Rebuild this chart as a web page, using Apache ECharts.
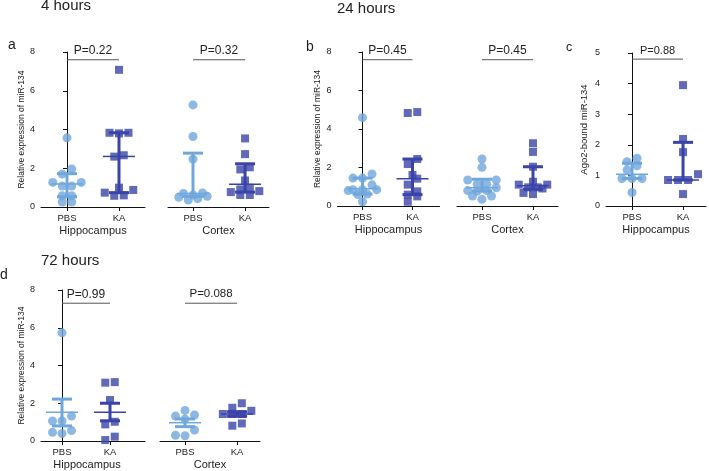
<!DOCTYPE html>
<html><head><meta charset="utf-8">
<script src="https://cdn.jsdelivr.net/npm/echarts@6/dist/echarts.min.js"></script>
<style>html,body{margin:0;padding:0;background:#fff}#c{width:709px;height:471px}</style>
</head><body><div id="c"></div>
<script>
const groups = ['PBS', 'KA'];
const regions = ['Hippocampus', 'Cortex'];
const timeTitles = ['4 hours', '24 hours', '72 hours'];
const panelLetters = ['a', 'b', 'c', 'd'];
const yNameExpr = 'Relative expression of miR-134';
const yNameAgo = 'Ago2-bound miR-134';

// a: 4 hours
const a_hip_PBS = [3.57, 1.96, 1.70, 1.27, 1.27, 1.08, 1.08, 0.58, 0.58, 0.26, 0.26];
const a_hip_KA  = [7.08, 3.83, 3.80, 3.83, 2.60, 2.67, 1.00, 0.88, 0.60, 0.58, 0.74];
const a_ctx_PBS = [5.27, 3.64, 2.47, 0.72, 0.70, 0.62, 0.55, 0.50, 0.43, 0.36];
const a_ctx_KA  = [3.54, 2.73, 2.05, 1.94, 1.37, 0.99, 0.91, 0.82, 0.77, 0.62, 0.62];
// b: 24 hours
const b_hip_PBS = [4.59, 1.66, 1.45, 1.45, 1.10, 0.85, 0.85, 0.85, 0.80, 0.62, 0.60, 0.22];
const b_hip_KA  = [4.88, 4.83, 2.44, 2.18, 1.61, 1.42, 1.11, 0.76, 0.59, 0.50, 0.22];
const b_ctx_PBS = [2.44, 2.01, 1.35, 1.35, 1.13, 1.13, 0.95, 0.80, 0.80, 0.77, 0.52, 0.52, 0.35];
const b_ctx_KA  = [3.26, 2.81, 2.04, 1.26, 1.11, 1.11, 0.97, 0.97, 0.91, 0.68, 0.62];
// c: Ago2-bound, 24 hours
const c_hip_PBS = [1.56, 1.45, 1.31, 1.18, 0.90, 0.90, 0.90, 0.44];
const c_hip_KA  = [3.95, 2.19, 1.76, 1.04, 0.85, 0.85, 0.85, 0.39];
// d: 72 hours
const d_hip_PBS = [5.73, 1.32, 1.06, 1.06, 0.55, 0.46, 0.40];
const d_hip_KA  = [3.12, 3.09, 2.17, 1.02, 0.88, 0.23, 0.05];
const d_ctx_PBS = [1.62, 1.38, 1.32, 1.16, 0.58, 0.30, 0.28];
const d_ctx_KA  = [2.00, 1.76, 1.60, 1.43, 1.43, 1.43, 0.93, 0.81];

// centre line, lower bar, upper bar  [PBS, KA]
const a_hip_stats = [[1.19, 0.53, 1.72], [2.61, 0.74, 3.83]];
const a_ctx_stats = [[0.70, 0.55, 2.78], [1.17, 0.77, 2.23]];
const b_hip_stats = [[0.90, 0.62, 1.45], [1.42, 0.59, 2.44]];
const b_ctx_stats = [[0.95, 0.78, 1.39], [1.05, 0.88, 2.04]];
const c_hip_stats = [[1.04, 0.90, 1.40], [0.85, 0.85, 2.08]];
const d_hip_stats = [[1.52, 0.80, 2.22], [1.52, 1.07, 2.00]];
const d_ctx_stats = [[0.97, 0.76, 1.17], [1.43, 1.31, 1.55]];

const pValues = { a1: 'P=0.22', a2: 'P=0.32', b1: 'P=0.45', b2: 'P=0.45', c: 'P=0.88', d1: 'P=0.99', d2: 'P=0.088' };

const LIGHT = '#6fa6dc';
const DARK = '#3a43a8';
const FONT = 'Liberation Sans, Arial, Helvetica, sans-serif';

const subplots = [
  { id: 'a1', g: [41, 52, 104, 155], xr: [-0.5, 1.5], yMax: 8, yInt: 2, showY: true, yName: yNameExpr, yGap: 14, yNameSize: 8.5, xName: regions[0], pbs: a_hip_PBS, ka: a_hip_KA, st: a_hip_stats, pY: 7.6, pSize: 12 },
  { id: 'a2', g: [168, 52, 101, 155], xr: [-0.48, 1.46], yMax: 8, yInt: 2, showY: false, xName: regions[1], pbs: a_ctx_PBS, ka: a_ctx_KA, st: a_ctx_stats, pY: 7.6, pSize: 12 },
  { id: 'b1', g: [337.5, 52, 102, 154], xr: [-0.5, 1.54], yMax: 8, yInt: 2, showY: true, yName: yNameExpr, yGap: 13, yNameSize: 8.5, xName: regions[0], pbs: b_hip_PBS, ka: b_hip_KA, st: b_hip_stats, pY: 7.6, pSize: 12 },
  { id: 'b2', g: [457, 52, 101, 154], xr: [-0.49, 1.49], yMax: 8, yInt: 2, showY: false, xName: regions[1], pbs: b_ctx_PBS, ka: b_ctx_KA, st: b_ctx_stats, pY: 7.6, pSize: 12 },
  { id: 'c', g: [606, 53, 100, 153], xr: [-0.51, 1.45], yMax: 5, yInt: 1, showY: true, yName: yNameAgo, yGap: 17, yNameSize: 9.5, xName: regions[0], pbs: c_hip_PBS, ka: c_hip_KA, st: c_hip_stats, pY: 4.8, pSize: 11 },
  { id: 'd1', g: [41, 290, 104, 151], xr: [-0.4375, 1.729], yMax: 8, yInt: 2, showY: true, yName: yNameExpr, yGap: 14, yNameSize: 8.5, xName: regions[0], xNamePad: [0, 12, 0, 0], pbs: d_hip_PBS, ka: d_hip_KA, st: d_hip_stats, pY: 7.3, pSize: 12 },
  { id: 'd2', g: [160, 290, 100, 151], xr: [-0.48, 1.44], yMax: 8, yInt: 2, showY: false, xName: regions[1], pbs: d_ctx_PBS, ka: d_ctx_KA, st: d_ctx_stats, pY: 7.3, pSize: 11.5 }
];

// simple GraphPad-like swarm: points in the same row spread sideways, inner slots filled first
function swarm(vals, gIdx, sp, spacing, thr, maxBin) {
  const ppy = sp.g[3] / sp.yMax;
  const ppx = sp.g[2] / (sp.xr[1] - sp.xr[0]);
  const sorted = vals.slice().sort((a, b) => a - b);
  const out = [];
  let i = 0;
  while (i < sorted.length) {
    let j = i;
    while (j < sorted.length && j - i < maxBin && (sorted[j] - sorted[i]) * ppy < thr) j++;
    const bin = sorted.slice(i, j);
    const n = bin.length;
    const slots = [];
    for (let k = 0; k < n; k++) slots.push((k - (n - 1) / 2) * spacing);
    slots.sort((a, b) => Math.abs(a) - Math.abs(b) || a - b);
    bin.forEach((v, k) => out.push([gIdx + slots[k] / ppx, v]));
    i = j;
  }
  return out;
}

const grid = [], xAxis = [], yAxis = [], series = [];
subplots.forEach((sp, idx) => {
  grid.push({ left: sp.g[0], top: sp.g[1], width: sp.g[2], height: sp.g[3] });
  xAxis.push({
    type: 'value', gridIndex: idx, min: sp.xr[0], max: sp.xr[1],
    name: sp.xName, nameLocation: 'middle', nameGap: 18,
    nameTextStyle: { fontSize: 11, fontFamily: FONT, color: '#222', padding: sp.xNamePad || 0 },
    axisLine: { show: true, onZero: false, lineStyle: { color: '#111', width: 1 } },
    axisTick: { show: true, length: 4, customValues: [0, 1], lineStyle: { color: '#111' } },
    axisLabel: { customValues: [0, 1], formatter: v => groups[Math.round(v)], fontSize: 9.5, fontFamily: FONT, color: '#222', margin: 6 },
    splitLine: { show: false }
  });
  yAxis.push({
    type: 'value', gridIndex: idx, min: 0, max: sp.yMax, interval: sp.yInt, show: sp.showY,
    name: sp.yName || '', nameLocation: 'middle', nameGap: sp.yGap || 14, nameRotate: 90,
    nameTextStyle: { fontSize: sp.yNameSize || 8.5, fontFamily: FONT, color: '#222' },
    axisLine: { show: true, lineStyle: { color: '#111', width: 1 } },
    axisTick: { show: true, length: 4, lineStyle: { color: '#111' } },
    axisLabel: { fontSize: 9, fontFamily: FONT, color: '#222', margin: 6 },
    splitLine: { show: false }
  });
  const sw = sp.id === 'c' ? 10 : 9.5;
  series.push({
    type: 'scatter', xAxisIndex: idx, yAxisIndex: idx, symbol: 'circle', symbolSize: 9,
    itemStyle: { color: LIGHT }, data: swarm(sp.pbs, 0, sp, sw, 6, 4), z: 2, silent: true
  });
  series.push({
    type: 'scatter', xAxisIndex: idx, yAxisIndex: idx, symbol: 'rect', symbolSize: 8,
    itemStyle: { color: DARK }, data: swarm(sp.ka, 1, sp, sw, 6, 4), z: 2, silent: true
  });
  series.push({
    type: 'custom', xAxisIndex: idx, yAxisIndex: idx, z: 3, silent: true,
    encode: { x: 0, y: [1, 2, 3] },
    data: sp.st.map((s, g) => [g, s[0], s[1], s[2]]),
    renderItem: function (params, api) {
      const g = api.value(0);
      const pc = api.coord([g, api.value(1)]);
      const pl = api.coord([g, api.value(2)]);
      const ph = api.coord([g, api.value(3)]);
      const color = g === 0 ? LIGHT : DARK;
      const hw = 16, cw = 10;
      return {
        type: 'group', children: [
          { type: 'line', shape: { x1: pl[0], y1: pl[1], x2: ph[0], y2: ph[1] }, style: { stroke: color, lineWidth: 3 } },
          { type: 'line', shape: { x1: ph[0] - cw, y1: ph[1], x2: ph[0] + cw, y2: ph[1] }, style: { stroke: color, lineWidth: 3 } },
          { type: 'line', shape: { x1: pl[0] - cw, y1: pl[1], x2: pl[0] + cw, y2: pl[1] }, style: { stroke: color, lineWidth: 3 } },
          { type: 'line', shape: { x1: pc[0] - hw, y1: pc[1], x2: pc[0] + hw, y2: pc[1] }, style: { stroke: color, lineWidth: 1.5 } }
        ]
      };
    }
  });
  const ptxt = pValues[sp.id];
  series.push({
    type: 'custom', xAxisIndex: idx, yAxisIndex: idx, z: 4, silent: true, clip: false,
    encode: { x: 0, y: 1 },
    data: [[0, sp.pY]],
    renderItem: function (params, api) {
      const p0 = api.coord([0, api.value(1)]);
      const p1 = api.coord([1, api.value(1)]);
      return {
        type: 'group', children: [
          { type: 'line', shape: { x1: p0[0], y1: p0[1], x2: p1[0], y2: p1[1] }, style: { stroke: '#555', lineWidth: 1 } },
          { type: 'text', style: { text: ptxt, x: (p0[0] + p1[0]) / 2, y: p0[1] - 3, align: 'center', verticalAlign: 'bottom', fontSize: sp.pSize, fontFamily: FONT, fill: '#222' } }
        ]
      };
    }
  });
});

const graphic = [
  { type: 'text', left: 41, top: -2, style: { text: timeTitles[0], fontSize: 15, fontFamily: FONT, fill: '#222' } },
  { type: 'text', left: 337, top: 1, style: { text: timeTitles[1], fontSize: 15, fontFamily: FONT, fill: '#222' } },
  { type: 'text', left: 41, top: 253, style: { text: timeTitles[2], fontSize: 15, fontFamily: FONT, fill: '#222' } },
  { type: 'text', left: 8, top: 38, style: { text: panelLetters[0], fontSize: 14, fontFamily: FONT, fill: '#222' } },
  { type: 'text', left: 306, top: 40, style: { text: panelLetters[1], fontSize: 14, fontFamily: FONT, fill: '#222' } },
  { type: 'text', left: 566, top: 41, style: { text: panelLetters[2], fontSize: 12.5, fontFamily: FONT, fill: '#222' } },
  { type: 'text', left: 0, top: 268, style: { text: panelLetters[3], fontSize: 14, fontFamily: FONT, fill: '#222' } }
];

const chart = echarts.init(document.getElementById('c'), null, { renderer: 'canvas' });
chart.setOption({ animation: false, backgroundColor: '#fff', grid, xAxis, yAxis, series, graphic });
</script>
</body></html>
